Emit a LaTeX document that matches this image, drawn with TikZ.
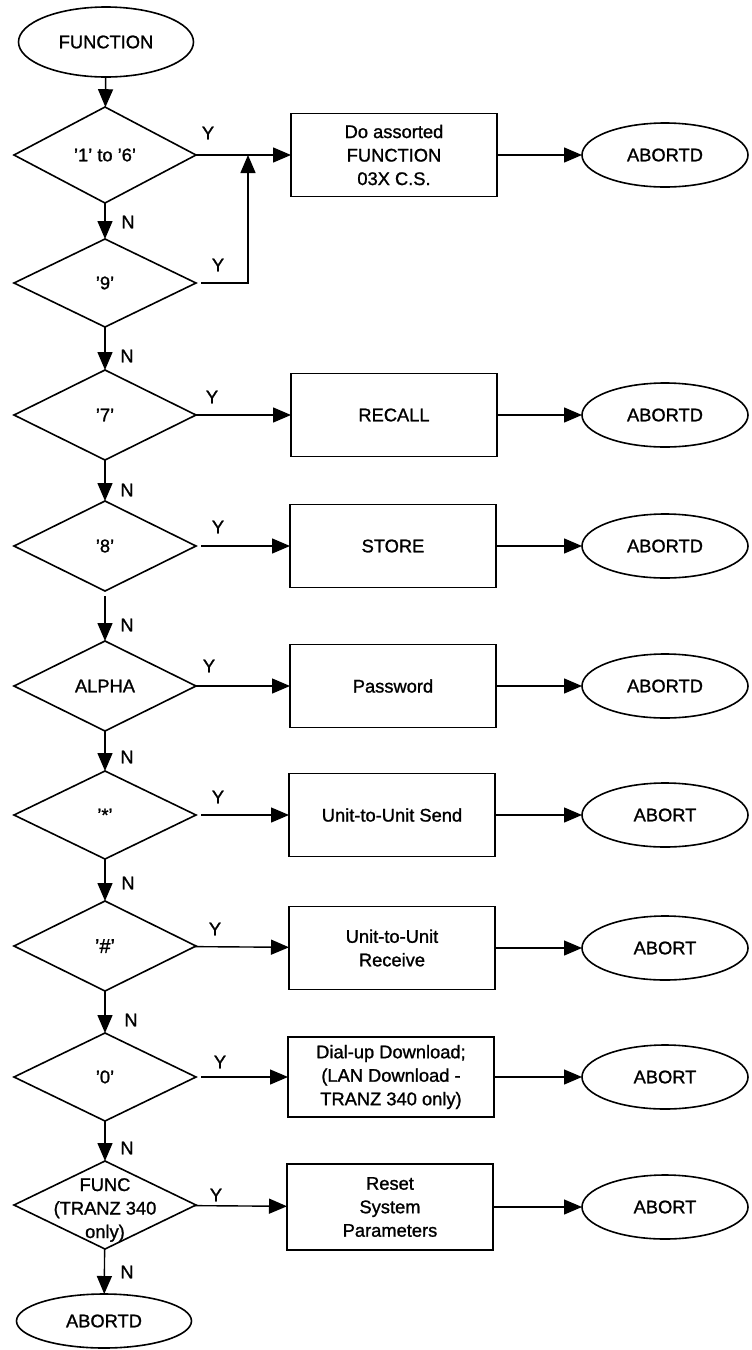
\documentclass[tikz,border=0pt]{standalone}
\usepackage{fontspec}
\setmainfont{Liberation Sans}[FakeBold=1.2]
\usetikzlibrary{shapes.geometric,arrows.meta}
\begin{document}
\begin{tikzpicture}[x=1pt,y=-1pt,
  every node/.style={inner sep=0pt, outer sep=0pt, font=\fontsize{18.3}{23.5}\selectfont},
  shp/.style={draw, line width=1.6pt},
  dia/.style={shp, diamond, minimum width=182pt, minimum height=90pt},
  term/.style={shp, ellipse, minimum width=166pt, minimum height=64pt},
  proc/.style={shp, rectangle, minimum width=206pt, minimum height=83pt, align=center},
  conn/.style={line width=1.4pt, -{Triangle[length=18pt,width=15pt]}},
  gap/.style={shorten <=5pt}]
\useasboundingbox (0,0) rectangle (752,1350);

% left column
\node[term, minimum width=175pt, minimum height=70pt] (start) at (106,42) {FUNCTION};
\node[dia, minimum height=96pt] (d1) at (105,155) {'1' to '6'};
\node[dia, minimum height=88pt] (d2) at (105,283) {'9'};
\node[dia] (d3) at (105,415) {'7'};
\node[dia] (d4) at (105,546) {'8'};
\node[dia] (d5) at (105,686) {ALPHA};
\node[dia, minimum height=88pt] (d6) at (105,815) {'*'};
\node[dia] (d7) at (105,946) {\fontsize{20}{24}\selectfont '\#'};
\node[dia, minimum height=88pt] (d8) at (105,1077) {'0'};
\node[dia, minimum height=88pt] (d9) at (105,1205) {};
\node[align=center] (d9t) at (105,1210) {FUNC\\(TRANZ 340\\only)};
\node[term, minimum width=175pt, minimum height=54pt] (end) at (104,1321) {ABORTD};

% boxes
\node[proc] (b1) at (394,155) {Do assorted\\FUNCTION\\03X C.S.};
\node[proc] (b3) at (394,415) {RECALL};
\node[proc] (b4) at (393,546) {STORE};
\node[proc] (b5) at (393,686) {Password};
\node[proc] (b6) at (392,815) {Unit-to-Unit Send};
\node[proc] (b7) at (392,948) {Unit-to-Unit\\Receive};
\node[proc, minimum height=80pt] (b8) at (391,1077) {Dial-up Download;\\(LAN Download -\\TRANZ 340 only)};
\node[proc, minimum height=86pt] (b9) at (390,1207) {Reset\\System\\Parameters};

% terminators
\node[term] (e1) at (665,155) {ABORTD};
\node[term] (e3) at (665,415) {ABORTD};
\node[term] (e4) at (665,546) {ABORTD};
\node[term] (e5) at (665,686) {ABORTD};
\node[term] (e6) at (665,815) {ABORT};
\node[term] (e7) at (665,948) {ABORT};
\node[term] (e8) at (665,1077) {ABORT};
\node[term] (e9) at (665,1207) {ABORT};

\coordinate (j) at (248,155);

% vertical N flow
\draw[conn] (start) -- (d1);
\draw[conn] (d1) -- (d2);
\draw[conn] (d2) -- (d3);
\draw[conn] (d3) -- (d4);
\draw[conn, gap] (d4) -- (d5);
\draw[conn] (d5) -- (d6);
\draw[conn] (d6) -- (d7);
\draw[conn] (d7) -- (d8);
\draw[conn] (d8) -- (d9);
\draw[conn] (d9) -- (end);

% Y branches
\draw[conn] (d1) -- (b1);
\draw[conn, gap] (d2.east) -| (j);
\draw[conn] (d3) -- (b3);
\draw[conn, gap] (d4) -- (b4);
\draw[conn] (d5) -- (b5);
\draw[conn, gap] (d6) -- (b6);
\draw[conn] (d7) -- (b7);
\draw[conn, gap] (d8) -- (b8);
\draw[conn] (d9) -- (b9);

% to terminators
\draw[conn] (b1) -- (e1);
\draw[conn] (b3) -- (e3);
\draw[conn] (b4) -- (e4);
\draw[conn] (b5) -- (e5);
\draw[conn] (b6) -- (e6);
\draw[conn] (b7) -- (e7);
\draw[conn] (b8) -- (e8);
\draw[conn] (b9) -- (e9);

% labels
\node (n1) at (128,222) {N};
\node (n2) at (127,356) {N};
\node (n3) at (127,490) {N};
\node (n4) at (127,625) {N};
\node (n5) at (127,757) {N};
\node (n6) at (128,883) {N};
\node (n7) at (131,1020) {N};
\node (n8) at (127,1148) {N};
\node (n9) at (127,1272) {N};

\node (y1) at (208,133) {Y};
\node (y2) at (218,265) {Y};
\node (y3) at (212,397) {Y};
\node (y4) at (218,527) {Y};
\node (y5) at (209,666) {Y};
\node (y6) at (218,797) {Y};
\node (y7) at (215,929) {Y};
\node (y8) at (220,1062) {Y};
\node (y9) at (216,1195) {Y};
\end{tikzpicture}
\end{document}
